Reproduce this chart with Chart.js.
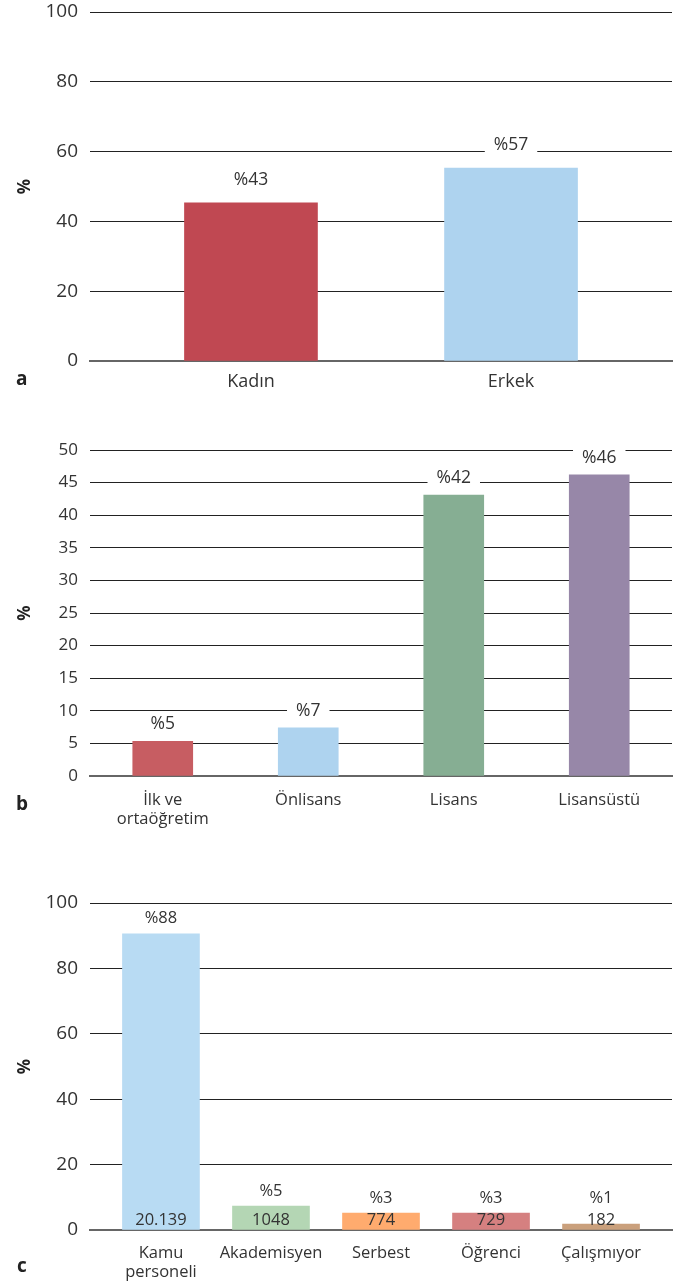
<!DOCTYPE html>
<html><head><meta charset="utf-8">
<script src="https://cdn.jsdelivr.net/npm/chart.js@4"></script>
<style>
html,body{margin:0;padding:0;background:#fff;}
body{width:681px;height:1285px;position:relative;overflow:hidden;}
.panel{position:absolute;left:0;width:681px;}
</style></head><body>
<div class="panel" style="top:0;height:400px"><canvas id="cA"></canvas></div>
<div class="panel" style="top:430px;height:420px"><canvas id="cB"></canvas></div>
<div class="panel" style="top:880px;height:405px"><canvas id="cC"></canvas></div>
<script>
// ---- Data (a) gender
const genderCategories = ['Kadın', 'Erkek'];
const genderValues = [45.3, 55.3];
const genderPercentLabels = ['%43', '%57'];
const genderColors = ['#C04852', '#AED3EF'];
const genderYTicks = [0, 20, 40, 60, 80, 100];

// ---- Data (b) education
const eduCategories = [['İlk ve', 'ortaöğretim'], 'Önlisans', 'Lisans', 'Lisansüstü'];
const eduValues = [5.3, 7.4, 43.1, 46.2];
const eduPercentLabels = ['%5', '%7', '%42', '%46'];
const eduColors = ['#C75D62', '#AED3EF', '#86AE93', '#9787A8'];
const eduYTicks = [0, 5, 10, 15, 20, 25, 30, 35, 40, 45, 50];

// ---- Data (c) occupation
const jobCategories = [['Kamu', 'personeli'], 'Akademisyen', 'Serbest', 'Öğrenci', 'Çalışmıyor'];
const jobValues = [90.6, 7.35, 5.2, 5.2, 1.84];
const jobPercentLabels = ['%88', '%5', '%3', '%3', '%1'];
const jobCountLabels = ['20.139', '1048', '774', '729', '182'];
const jobColors = ['#B8DBF3', '#B4D6B4', '#FFAB6E', '#D58080', '#CAA07C'];
const jobYTicks = [0, 20, 40, 60, 80, 100];

const FONT = "'Open Sans', 'Noto Sans', sans-serif";
const TEXT = '#333';

const barLabelPlugin = {
  id: 'barLabels',
  afterDatasetsDraw(chart, args, o) {
    const ctx = chart.ctx;
    const meta = chart.getDatasetMeta(0);
    const ys = chart.scales.y;
    const data = chart.data.datasets[0].data;
    ctx.save();
    meta.data.forEach((bar, i) => {
      const v = data[i].y;
      const anchor = Math.max(v, o.minAnchor || 0);
      const y = ys.getPixelForValue(anchor) - o.offset;
      ctx.font = 'normal ' + o.size + 'px ' + FONT;
      const t = o.top[i];
      const w = ctx.measureText(t).width;
      ctx.fillStyle = '#fff';
      ctx.fillRect(bar.x - w / 2 - 9, y - 8, w + 18, 16);
      ctx.fillStyle = TEXT;
      ctx.textAlign = 'center';
      ctx.textBaseline = 'middle';
      ctx.fillText(t, bar.x, y);
      if (o.inside) {
        ctx.font = 'normal ' + o.insideSize + 'px ' + FONT;
        ctx.fillText(o.inside[i], bar.x, ys.getPixelForValue(0) - o.insideOffset);
      }
    });
    ctx.restore();
  }
};

const letterPlugin = {
  id: 'panelLetter',
  afterDraw(chart, args, o) {
    const ctx = chart.ctx;
    ctx.save();
    ctx.font = 'bold 19px ' + FONT;
    ctx.fillStyle = '#222';
    ctx.textAlign = 'left';
    ctx.textBaseline = 'alphabetic';
    ctx.fillText(o.text, o.x, o.y);
    ctx.restore();
  }
};

function buildChart(id, o) {
  return new Chart(document.getElementById(id), {
    type: 'bar',
    data: {
      datasets: [{
        data: o.values.map((v, i) => ({ x: i, y: v })),
        backgroundColor: o.colors,
        barThickness: o.barWidth,
        borderWidth: 0
      }]
    },
    options: {
      responsive: true,
      maintainAspectRatio: false,
      animation: false,
      events: [],
      layout: { padding: { top: o.padTop, right: 9, left: 0, bottom: 0 } },
      plugins: {
        legend: { display: false },
        tooltip: { enabled: false },
        barLabels: o.labels,
        panelLetter: o.letter
      },
      scales: {
        x: {
          type: 'linear', offset: false, min: o.xMin, max: o.xMax, z: 1,
          afterBuildTicks: s => { s.ticks = o.categories.map((c, i) => ({ value: i })); },
          afterFit: s => { s.height = o.xHeight; s.paddingLeft = 0; s.paddingRight = 0; },
          grid: { display: false, drawTicks: false },
          border: { display: true, color: 'rgba(0,0,0,0.6)', width: 2 },
          ticks: {
            callback: v => o.categories[v],
            font: { family: FONT, size: o.xFont },
            color: TEXT, padding: o.xPad, maxRotation: 0, autoSkip: false
          }
        },
        y: {
          min: o.yTicks[0], max: o.yTicks[o.yTicks.length - 1],
          afterBuildTicks: s => { s.ticks = o.yTicks.map(v => ({ value: v })); },
          afterFit: s => { s.width = 90; s.paddingTop = 0; s.paddingBottom = 0; },
          grid: {
            color: c => (c.tick && c.tick.value === 0) ? 'rgba(0,0,0,0)' : '#222',
            lineWidth: 1, drawTicks: false
          },
          border: { display: false },
          title: {
            display: true, text: '%',
            font: { family: FONT, size: 17, weight: 'bold' },
            color: '#222', padding: { top: 15, bottom: 0 }
          },
          ticks: { font: { family: FONT, size: o.yFont }, color: TEXT, padding: 12 }
        }
      }
    },
    plugins: [barLabelPlugin, letterPlugin]
  });
}

buildChart('cA', {
  categories: genderCategories, values: genderValues, colors: genderColors, yTicks: genderYTicks,
  barWidth: 133, xMin: -0.619, xMax: 1.619, padTop: 12, xHeight: 39, xFont: 18, xPad: 10, yFont: 19,
  labels: { top: genderPercentLabels, offset: 23, size: 17.5 },
  letter: { text: 'a', x: 16, y: 385 }
});

buildChart('cB', {
  categories: eduCategories, values: eduValues, colors: eduColors, yTicks: eduYTicks,
  barWidth: 60, xMin: -0.5, xMax: 3.5, padTop: 20, xHeight: 74, xFont: 16.5, xPad: 14, yFont: 17,
  labels: { top: eduPercentLabels, offset: 17, size: 17.5 },
  letter: { text: 'b', x: 16, y: 380 }
});

buildChart('cC', {
  categories: jobCategories, values: jobValues, colors: jobColors, yTicks: jobYTicks,
  barWidth: 77, xMin: -0.645, xMax: 4.645, padTop: 23, xHeight: 55, xFont: 16.5, xPad: 13, yFont: 19,
  labels: { top: jobPercentLabels, offset: 15, size: 16.5, minAnchor: 5.2,
            inside: jobCountLabels, insideSize: 16.5, insideOffset: 10 },
  letter: { text: 'c', x: 17, y: 392 }
});
</script>
</body></html>
